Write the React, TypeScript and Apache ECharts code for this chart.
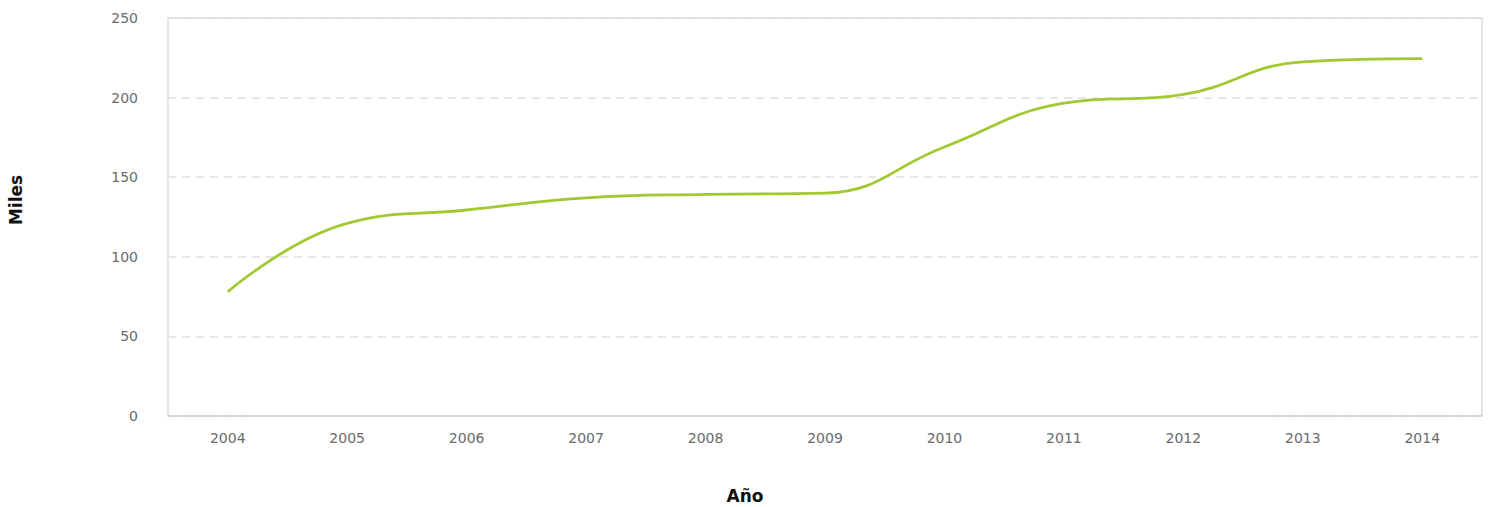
import React, { useEffect, useRef } from "react";
import * as echarts from "echarts";

const years = ["2004", "2005", "2006", "2007", "2008", "2009", "2010", "2011", "2012", "2013", "2014"];
const values = [78, 121, 129.4, 137, 139.2, 140, 169, 196.5, 202, 222.5, 224.5];
const yTicks = { min: 0, max: 250, interval: 50 };

export default function App() {
  const ref = useRef<HTMLDivElement>(null);
  useEffect(() => {
    const chart = echarts.init(ref.current!, null, { renderer: "svg" });
    chart.setOption({
      animation: false,
      backgroundColor: "#ffffff",
      grid: { left: 168, top: 18, right: 9, bottom: 91, show: true, borderColor: "#dcdcdc", borderWidth: 1.5, containLabel: false },
      xAxis: {
        type: "category",
        data: years,
        boundaryGap: true,
        axisLine: { show: true, lineStyle: { color: "#d4d4d4", width: 1.5 } },
        axisTick: { show: false },
        axisLabel: { color: "#6a6a6a", fontSize: 14, fontFamily: "DejaVu Sans", margin: 15 },
        splitLine: { show: false },
      },
      yAxis: {
        type: "value",
        min: yTicks.min,
        max: yTicks.max,
        interval: yTicks.interval,
        axisLine: { show: false },
        axisTick: { show: false },
        axisLabel: { color: "#6a6a6a", fontSize: 14, fontFamily: "DejaVu Sans", margin: 30 },
        splitLine: { show: true, lineStyle: { color: "#e0e0e0", type: [8, 6], width: 1.5 } },
      },
      series: [
        {
          type: "line",
          data: values,
          smooth: 0.45,
          showSymbol: false,
          symbol: "none",
          lineStyle: { color: "#a2c832", width: 2.8 },
        },
      ],
      graphic: [
        {
          type: "text",
          x: 16,
          y: 200,
          rotation: Math.PI / 2,
          style: {
            text: "Miles",
            font: "bold 17px 'DejaVu Sans', sans-serif",
            fill: "#111",
            align: "center",
            verticalAlign: "middle",
          },
        },
        {
          type: "text",
          x: 745,
          y: 496,
          style: {
            text: "Año",
            font: "bold 17px 'DejaVu Sans', sans-serif",
            fill: "#111",
            align: "center",
            verticalAlign: "middle",
          },
        },
      ],
    });
    return () => chart.dispose();
  }, []);
  return <div ref={ref} style={{ position: "fixed", left: 0, top: 0, width: 1491, height: 507 }} />;
}
